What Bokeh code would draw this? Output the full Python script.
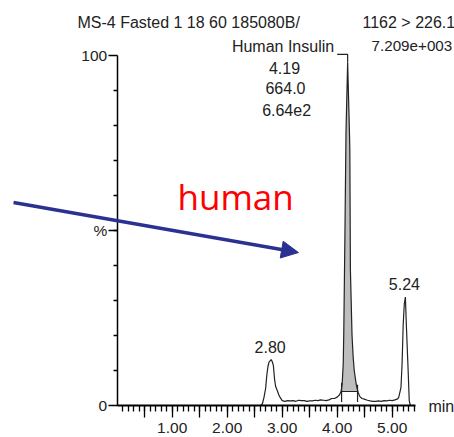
import numpy as np
from bokeh.plotting import figure
from bokeh.models import (Range1d, FixedTicker, Label, Arrow, NormalHead, LinearAxis)
from bokeh.embed import file_html
from bokeh.resources import INLINE

# ---- data (retention time in min, relative intensity in %) ----
time = [0.00, 2.61, 2.64, 2.67, 2.70, 2.72, 2.74, 2.76, 2.80, 2.82, 2.84, 2.86, 2.88,
        2.91, 2.94, 2.96, 3.00, 3.05, 3.10, 3.15, 3.20, 3.25, 3.30, 3.35, 3.40,
        3.45, 3.50, 3.55, 3.60, 3.65, 3.70, 3.75, 3.80, 3.85, 3.90, 3.95, 4.00,
        4.04, 4.07, 4.09, 4.11, 4.12, 4.14, 4.16, 4.19, 4.22, 4.23, 4.24, 4.27,
        4.29, 4.31, 4.35, 4.38, 4.41, 4.45, 4.48, 4.55, 4.60, 4.65, 4.70, 4.75,
        4.80, 4.85, 4.90, 4.95, 5.00, 5.05, 5.10, 5.12, 5.16, 5.18, 5.20, 5.22,
        5.24, 5.26, 5.28, 5.29, 5.31, 5.33, 5.35]
intensity = [0.0, 0.0, 0.5, 2.4, 5.0, 8.6, 11.0, 12.4, 13.1, 12.5, 11.4, 7.7, 5.5,
             4.3, 3.0, 2.4, 1.4, 1.2, 1.4, 1.3, 1.4, 1.2, 1.5, 1.4, 1.4,
             1.2, 1.3, 1.3, 1.5, 1.4, 1.6, 1.5, 1.4, 1.6, 2.0, 2.0, 2.4,
             3.0, 4.0, 6.0, 12.0, 21.0, 48.0, 78.0, 98.0, 80.0, 73.0, 39.0, 20.0,
             14.0, 10.0, 5.7, 3.8, 2.6, 2.0, 1.9, 1.5, 1.3, 1.2, 1.2, 1.3,
             1.2, 1.4, 1.3, 1.5, 1.4, 1.6, 1.9, 2.4, 5.2, 12.0, 23.0, 29.0,
             31.0, 22.0, 14.0, 10.0, 1.4, 0.0, 0.0]

# labelled peaks
peak_rt = [2.80, 5.24]
peak_height = [13.1, 31.0]

# integrated peak (Human Insulin)
main_name = "Human Insulin"
main_rt = 4.19
main_top = 98.0
main_area = "664.0"
main_height = "6.64e2"
int_start, int_end, int_base = 4.08, 4.37, 4.0

header_left = "MS-4 Fasted 1 18 60 185080B/"
header_right = ["1162 > 226.1", "7.209e+003"]

x_end = 5.42
x_major = [0.5, 1.0, 1.5, 2.0, 2.5, 3.0, 3.5, 4.0, 4.5, 5.0]
x_labels = {1.0: "1.00", 2.0: "2.00", 3.0: "3.00", 4.0: "4.00", 5.0: "5.00"}
y_major = [0, 50, 100]
y_labels = {0: "0", 50: "%", 100: "100"}

FONT = "Liberation Sans"
TXT = "#222222"

p = figure(width=454, height=437, output_backend="svg", toolbar_location=None,
           x_range=Range1d(-2.122, 6.133), y_range=Range1d(-9.143, 115.71),
           x_axis_location=None, y_axis_location=None,
           min_border=0)
p.grid.visible = False
p.outline_line_color = None
p.background_fill_color = "white"
p.border_fill_color = "white"

# axes drawn at x = 0 and y = 0
xa = LinearAxis(fixed_location=0, bounds=(0, x_end))
xa.ticker = FixedTicker(ticks=x_major,
                        minor_ticks=[round(0.1 * k, 1) for k in range(1, 55)])
xa.major_label_overrides = {t: x_labels.get(t, "") for t in x_major}
xa.axis_line_width = 2
xa.axis_line_color = "black"
xa.major_tick_in = 0
xa.major_tick_out = 12
xa.minor_tick_in = 0
xa.minor_tick_out = 6
xa.major_tick_line_width = 1.3
xa.minor_tick_line_width = 1.3
xa.major_label_standoff = 6
xa.major_label_text_font = FONT
xa.major_label_text_font_size = "15.5px"
xa.major_label_text_color = TXT
p.add_layout(xa, "below")

ya = LinearAxis(fixed_location=0, bounds=(0, 100))
ya.ticker = FixedTicker(ticks=y_major, minor_ticks=list(range(10, 100, 10)))
ya.major_label_overrides = y_labels
ya.axis_line_width = 1.5
ya.axis_line_color = "black"
ya.major_tick_in = 0
ya.major_tick_out = 9
ya.minor_tick_in = 0
ya.minor_tick_out = 4
ya.major_tick_line_width = 1.3
ya.minor_tick_line_width = 1.3
ya.major_label_standoff = 1
ya.major_label_text_font = FONT
ya.major_label_text_font_size = "15.5px"
ya.major_label_text_color = TXT
p.add_layout(ya, "left")

# integrated area of main peak
t_arr = np.array(time)
i_arr = np.array(intensity)
inside = (t_arr > int_start) & (t_arr < int_end)
fx = np.concatenate([[int_start], t_arr[inside], [int_end]])
fy = np.concatenate([[np.interp(int_start, t_arr, i_arr)], i_arr[inside],
                     [np.interp(int_end, t_arr, i_arr)]])
p.varea(x=fx, y1=np.full_like(fx, int_base), y2=fy, fill_color="#BEBEBE")
p.line(x=[int_start, int_end], y=[int_base, int_base], line_color="#222", line_width=1.2)
p.segment(x0=[int_start, int_end], y0=[1.0, 1.0], x1=[int_start, int_end],
          y1=[fy[0] + 1.5, fy[-1] + 1.5], line_color="#222", line_width=1.2)

# trace
p.line(x=time, y=intensity, line_color="#222222", line_width=1.2)

# leader line for main peak
p.line(x=[main_rt - 0.19, main_rt, main_rt], y=[100.3, 100.3, main_top],
       line_color="#222", line_width=1.2)

# peak labels
for rt, h in zip(peak_rt, peak_height):
    p.add_layout(Label(x=rt, y=h, text=f"{rt:.2f}", text_align="center",
                       text_baseline="middle", y_offset=13, x_offset=-1,
                       text_font=FONT, text_font_size="16px", text_color=TXT))

# main peak annotation block
block = [main_name, f"{main_rt:.2f}", main_area, main_height]
Y_block = [102.6, 96.4, 90.7, 84.4]
X_block = [3.945, 3.042, 3.06, 3.08]
for k, (txt, yy, xx) in enumerate(zip(block, Y_block, X_block)):
    p.add_layout(Label(x=xx, y=yy, text=txt,
                       text_align="right" if k == 0 else "center",
                       text_baseline="middle", text_font=FONT,
                       text_font_size="16px", text_color=TXT))

# header texts
p.add_layout(Label(x=-0.722, y=109.3, text=header_left, text_align="left",
                   text_baseline="middle", text_font=FONT,
                   text_font_size="16px", text_color=TXT))
p.add_layout(Label(x=4.46, y=109.3, text=header_right[0], text_align="left",
                   text_baseline="middle", text_font=FONT,
                   text_font_size="16px", text_color=TXT))
p.add_layout(Label(x=4.625, y=102.6, text=header_right[1], text_align="left",
                   text_baseline="middle", text_font=FONT,
                   text_font_size="15.2px", text_color=TXT))
p.add_layout(Label(x=5.66, y=-0.3, text="min", text_align="left",
                   text_baseline="middle", text_font=FONT,
                   text_font_size="16px", text_color=TXT))

# overlay annotation: arrow and "human"
p.add_layout(Arrow(x_start=-1.885, y_start=58.0, x_end=3.296, y_end=43.7,
                   line_color="#2B3190", line_width=3.5,
                   end=NormalHead(size=17, fill_color="#2B3190",
                                  line_color="#2B3190")))
p.add_layout(Label(x=1.096, y=59.6, text="human", text_align="left",
                   text_baseline="alphabetic", text_font="Open Sans",
                   text_font_size="35px", text_color="#FF0000"))

open("out.html", "w").write(file_html(p, INLINE))
